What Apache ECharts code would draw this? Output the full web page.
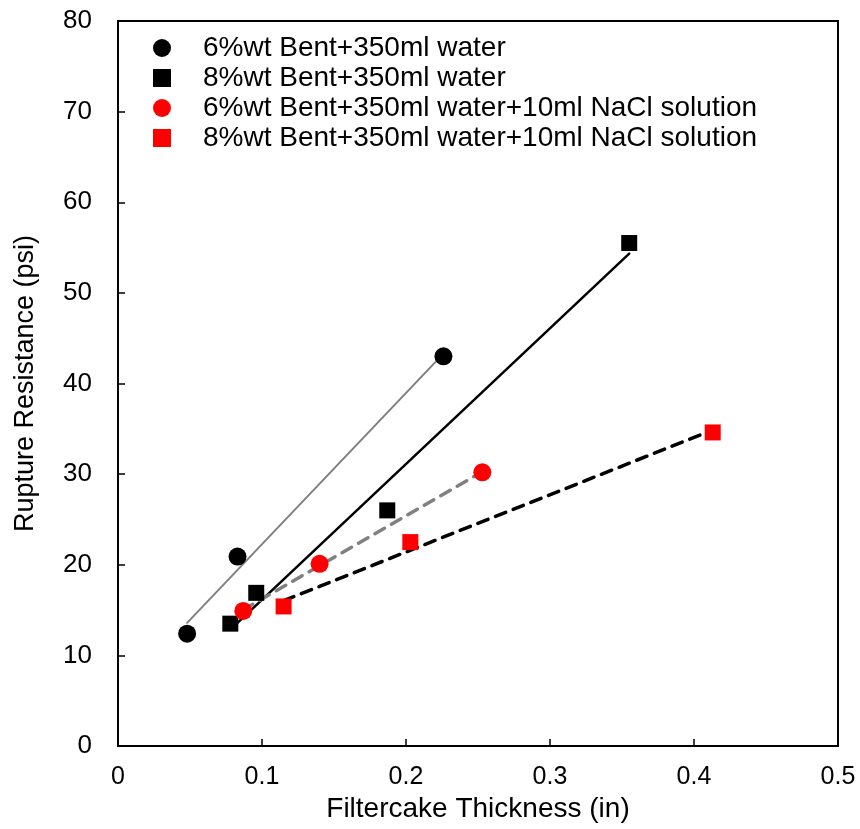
<!DOCTYPE html>
<html>
<head>
<meta charset="utf-8">
<script src="https://cdn.jsdelivr.net/npm/echarts@6/dist/echarts.min.js"></script>
<style>
  html, body { margin: 0; padding: 0; background: #fff; }
  #chart { width: 860px; height: 829px; }
</style>
</head>
<body>
<div id="chart"></div>
<script>
// Filtercake thickness (in) vs rupture resistance (psi)
const bent6X = [0.048, 0.083, 0.226];
const bent6Y = [12.4, 20.9, 43.0];
const bent8X = [0.078, 0.096, 0.187, 0.355];
const bent8Y = [13.5, 16.9, 26.0, 55.5];
const bent6NaClX = [0.087, 0.140, 0.253];
const bent6NaClY = [14.9, 20.1, 30.2];
const bent8NaClX = [0.115, 0.203, 0.413];
const bent8NaClY = [15.4, 22.5, 34.6];

const seriesNames = [
  '6%wt Bent+350ml water',
  '8%wt Bent+350ml water',
  '6%wt Bent+350ml water+10ml NaCl solution',
  '8%wt Bent+350ml water+10ml NaCl solution'
];

const FONT = '"Liberation Sans", Arial, sans-serif';

function pairs(xs, ys) { return xs.map((x, i) => [x, ys[i]]); }

// Least-squares trend line spanning the measured thickness range
function trend(xs, ys) {
  const n = xs.length;
  const mx = xs.reduce((a, b) => a + b, 0) / n;
  const my = ys.reduce((a, b) => a + b, 0) / n;
  let sxy = 0, sxx = 0;
  for (let i = 0; i < n; i++) {
    sxy += (xs[i] - mx) * (ys[i] - my);
    sxx += (xs[i] - mx) * (xs[i] - mx);
  }
  const k = sxy / sxx, b = my - k * mx;
  const x0 = Math.min(...xs), x1 = Math.max(...xs);
  return [[x0, k * x0 + b], [x1, k * x1 + b]];
}

function trendSeries(xs, ys, color, width, type) {
  return {
    type: 'line',
    data: trend(xs, ys),
    symbol: 'none',
    silent: true,
    z: 1,
    lineStyle: { color: color, width: width, type: type, cap: 'round' }
  };
}

function markerSeries(name, xs, ys, symbol, size, color) {
  return {
    name: name,
    type: 'scatter',
    data: pairs(xs, ys),
    symbol: symbol,
    symbolSize: size,
    itemStyle: { color: color, opacity: 1 },
    z: 3
  };
}

const chart = echarts.init(document.getElementById('chart'), null, { renderer: 'canvas' });

chart.setOption({
  animation: false,
  backgroundColor: '#ffffff',
  grid: {
    left: 118, right: 22, top: 21, bottom: 83,
    show: true, borderColor: '#000', borderWidth: 2,
    containLabel: false, outerBoundsMode: 'none'
  },
  legend: {
    data: seriesNames.map((n, i) => ({ name: n, icon: i % 2 === 0 ? 'circle' : 'rect' })),
    orient: 'vertical',
    left: 153, top: 34, padding: 0,
    itemWidth: 18, itemHeight: 18, itemGap: 2,
    textStyle: { fontFamily: FONT, fontSize: 28, color: '#000', padding: [0, 0, 0, 27] },
    selectedMode: false
  },
  xAxis: {
    type: 'value', min: 0, max: 0.5, interval: 0.1,
    name: 'Filtercake Thickness (in)',
    nameLocation: 'middle', nameGap: 46,
    nameTextStyle: { fontFamily: FONT, fontSize: 28, color: '#000' },
    axisLine: { show: true, lineStyle: { color: '#000', width: 2 } },
    axisTick: { show: true, inside: true, length: 7, lineStyle: { color: '#000', width: 1.5 } },
    axisLabel: { fontFamily: FONT, fontSize: 25, color: '#000', margin: 19 },
    splitLine: { show: false }
  },
  yAxis: {
    type: 'value', min: 0, max: 80, interval: 10,
    name: 'Rupture Resistance (psi)',
    nameLocation: 'middle', nameGap: 79, nameRotate: 90,
    nameTextStyle: { fontFamily: FONT, fontSize: 27, color: '#000' },
    axisLine: { show: true, lineStyle: { color: '#000', width: 2 } },
    axisTick: { show: true, inside: true, length: 7, lineStyle: { color: '#000', width: 1.5 } },
    axisLabel: { fontFamily: FONT, fontSize: 26, color: '#000', margin: 26 },
    splitLine: { show: false }
  },
  series: [
    trendSeries(bent6X, bent6Y, '#808080', 2, 'solid'),
    trendSeries(bent8X, bent8Y, '#000000', 2.5, 'solid'),
    trendSeries(bent6NaClX, bent6NaClY, '#808080', 3.5, [11, 8]),
    trendSeries(bent8NaClX, bent8NaClY, '#000000', 3.5, [11, 8]),
    markerSeries(seriesNames[0], bent6X, bent6Y, 'circle', 18, '#000000'),
    markerSeries(seriesNames[1], bent8X, bent8Y, 'rect', 16, '#000000'),
    markerSeries(seriesNames[2], bent6NaClX, bent6NaClY, 'circle', 18, '#ff0000'),
    markerSeries(seriesNames[3], bent8NaClX, bent8NaClY, 'rect', 16, '#ff0000')
  ]
});
</script>
</body>
</html>
